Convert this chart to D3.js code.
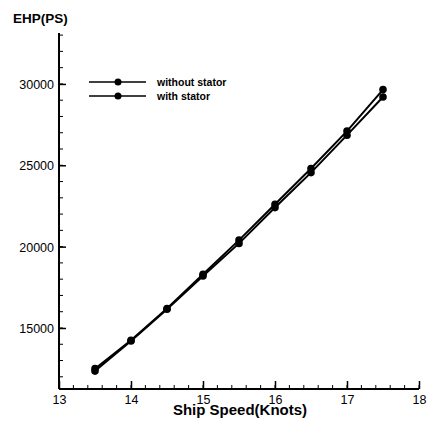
<!DOCTYPE html>
<html>
<head>
<meta charset="utf-8">
<script src="https://cdn.jsdelivr.net/npm/d3@7"></script>
<style>
  body { margin: 0; background: #fff; }
  svg text { font-family: "Liberation Sans", Arial, sans-serif; fill: #000; }
</style>
</head>
<body>
<svg id="chart" width="428" height="424"></svg>
<script>
var speeds = [13.5, 14, 14.5, 15, 15.5, 16, 16.5, 17, 17.5];
var withoutStator = [12500, 14250, 16200, 18300, 20400, 22600, 24800, 27100, 29650];
var withStator = [12350, 14200, 16150, 18200, 20200, 22400, 24550, 26850, 29200];
var xTicks = [13, 14, 15, 16, 17, 18];
var yTicks = [15000, 20000, 25000, 30000];
var seriesNames = ['without stator', 'with stator'];

var svg = d3.select('#chart'),
    cs = {
        x: { left: 59, right: 419, domain: [13, 18] },
        y: { top: 33, bottom: 389, domain: [11250, 33130] }
    };

cs.x.scale = d3.scaleLinear().domain(cs.x.domain).range([cs.x.left, cs.x.right]);
cs.y.scale = d3.scaleLinear().domain(cs.y.domain).range([cs.y.bottom, cs.y.top]);

// minor ticks
var xMinor = d3.range(13, 18.001, 0.2).map(v => +v.toFixed(1));
var yMinor = d3.range(12000, 33001, 1000);

svg.append('g').selectAll('line').data(xMinor).enter().append('line')
    .attr('x1', d => cs.x.scale(d)).attr('x2', d => cs.x.scale(d))
    .attr('y1', cs.y.bottom).attr('y2', cs.y.bottom - 4)
    .attr('stroke', '#000').attr('stroke-width', 1);
svg.append('g').selectAll('line').data(yMinor).enter().append('line')
    .attr('y1', d => cs.y.scale(d)).attr('y2', d => cs.y.scale(d))
    .attr('x1', cs.x.left).attr('x2', cs.x.left + 4)
    .attr('stroke', '#000').attr('stroke-width', 1);

// axes
cs.x.axis = d3.axisTop(cs.x.scale).tickValues(xTicks).tickSize(8).tickFormat(d3.format('d'));
cs.y.axis = d3.axisRight(cs.y.scale).tickValues(yTicks).tickSize(7).tickFormat(d3.format('d'));

var gx = svg.append('g').attr('transform', 'translate(0,' + cs.y.bottom + ')').call(cs.x.axis);
gx.select('.domain').remove();
gx.selectAll('line').attr('stroke-width', 1.5);
gx.selectAll('text').attr('y', 15).attr('dy', '0').attr('font-size', 12.5);

var gy = svg.append('g').attr('transform', 'translate(' + cs.x.left + ',0)').call(cs.y.axis);
gy.select('.domain').remove();
gy.selectAll('line').attr('stroke-width', 1.5);
gy.selectAll('text').attr('x', -5).attr('text-anchor', 'end').attr('dy', '0.35em').attr('font-size', 12.5);

svg.append('line').attr('x1', cs.x.left).attr('x2', cs.x.right)
    .attr('y1', cs.y.bottom).attr('y2', cs.y.bottom).attr('stroke', '#000').attr('stroke-width', 2);
svg.append('line').attr('x1', cs.x.left).attr('x2', cs.x.left)
    .attr('y1', cs.y.top).attr('y2', cs.y.bottom).attr('stroke', '#000').attr('stroke-width', 2);

// series
var line = d3.line().x(d => cs.x.scale(d[0])).y(d => cs.y.scale(d[1]));
[withoutStator, withStator].forEach(function (vals) {
    var pts = speeds.map((s, i) => [s, vals[i]]);
    svg.append('path').datum(pts).attr('d', line)
        .attr('fill', 'none').attr('stroke', '#000').attr('stroke-width', 2);
    svg.append('g').selectAll('circle').data(pts).enter().append('circle')
        .attr('cx', d => cs.x.scale(d[0])).attr('cy', d => cs.y.scale(d[1]))
        .attr('r', 3.8).attr('fill', '#000');
});

// legend
var legend = svg.append('g').selectAll('g').data(seriesNames).enter().append('g')
    .attr('transform', (d, i) => 'translate(89,' + (82 + i * 14) + ')');
legend.append('line').attr('x1', 0).attr('x2', 57).attr('stroke', '#000').attr('stroke-width', 1.5);
legend.append('circle').attr('cx', 29).attr('r', 3.5).attr('fill', '#000');
legend.append('text').attr('x', 68).attr('dy', '0.35em')
    .attr('font-size', 10.5).attr('font-weight', 'bold').text(d => d);

// titles
svg.append('text').attr('x', 13).attr('y', 23).attr('font-size', 13.5)
    .attr('font-weight', 'bold').text('EHP(PS)');
svg.append('text').attr('x', 240).attr('y', 415).attr('text-anchor', 'middle')
    .attr('font-size', 15).attr('font-weight', 'bold').text('Ship Speed(Knots)');
</script>
</body>
</html>
